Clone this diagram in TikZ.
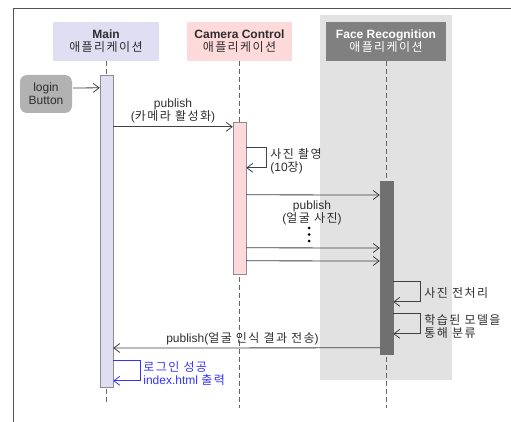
\documentclass[tikz,border=0pt]{standalone}
\usepackage{fontspec}
\setmainfont{Liberation Sans}
\newfontfamily\krfont[LetterSpace=12]{Noto Sans CJK KR}
\usetikzlibrary{arrows.meta, positioning, calc}
\definecolor{cMain}{RGB}{224,222,242}
\definecolor{cCam}{RGB}{255,218,218}
\definecolor{cFace}{RGB}{128,128,128}
\definecolor{cZone}{RGB}{226,226,226}
\definecolor{cBar}{RGB}{112,112,112}
\definecolor{cBtn}{RGB}{178,178,178}
\definecolor{cLine}{RGB}{64,64,64}
\definecolor{cText}{RGB}{45,45,45}
\definecolor{cBlue}{RGB}{51,51,255}
\tikzset{
	head/.style={rectangle, minimum height=39pt, inner sep=0pt, align=center, text=cText},
	actbar/.style={rectangle, minimum width=13pt, inner sep=0pt, draw=cLine!60},
	lifeline/.style={draw=cLine!80, dash pattern=on 5pt off 3pt, line width=0.8pt},
	msg/.style={draw=cLine, line width=0.8pt, -{Straight Barb[length=6pt, width=9pt]}},
	note/.style={align=left, anchor=west, inner sep=0pt, text=cText},
	btnbox/.style={rectangle, rounded corners=7pt, minimum width=52pt, minimum height=38pt, align=center, fill=cBtn, text=cText, inner sep=0pt},
}

\begin{document}
\begin{tikzpicture}[x=1pt, y=-1pt, font=\fontsize{12}{13}\selectfont]
	\useasboundingbox (0,0) rectangle (511,422);
	\draw[cLine!90, line width=0.9pt] (13,422) -- (13,8) -- (511,8);
	% shaded zone of the recognition app
	\fill[cZone] (320,15) rectangle (452,380);
	% headers
	\node[head, fill=cMain, minimum width=106pt] (main) at (106,41.5) {\textbf{Main}\\{\krfont 애플리케이션}};
	\node[head, fill=cCam, minimum width=105pt] (cam) at (239.5,41.5) {\textbf{Camera Control}\\{\krfont 애플리케이션}};
	\node[head, fill=cFace, minimum width=120pt, text=white] (face) at (386,41.5) {\textbf{Face Recognition}\\{\krfont 애플리케이션}};
	\coordinate (mainend) at (main.south |- 0,402);
	\coordinate (camend) at (cam.south |- 0,408);
	\coordinate (faceend) at (face.south |- 0,408);
	\draw[lifeline] (main.south) -- (mainend);
	\draw[lifeline] (cam.south) -- (camend);
	\draw[lifeline] (face.south) -- (faceend);
	% activation bars
	\node[actbar, fill=cMain, minimum height=312pt] (mainbar) at (106.5,231) {};
	\node[actbar, fill=cCam, minimum height=152pt] (cambar) at (239.5,198) {};
	\node[actbar, fill=cBar, draw=cBar, minimum height=173pt] (facebar) at (386.5,267.5) {};
	% login
	\node[btnbox] (login) at (46,94) {login\\Button};
	\draw[msg] ($(login.east)+(1,-6)$) -- ($(mainbar.north west)+(0,13)$);
	% activate camera
	\draw[msg] ($(mainbar.north east)+(0,52)$) -- node[above, align=center, text=cText, inner sep=3pt] {publish\\({\krfont 카메라 활성화})} ($(cambar.north west)+(0,5)$);
	\draw[msg] ($(cambar.north east)+(0,26)$) -- ++(20,0) -- ++(0,20) -- ++(-20,0);
	\node[note] (shot) at ($(cambar.north east)+(24,39)$) {{\krfont 사진 촬영}\\(10{\krfont 장})};
	% send pictures
	\draw[msg] ($(cambar.north east)+(0,73)$) -- (facebar.north west |- 0,195);
	\node[align=center, text=cText] (pub) at (312,212.5) {publish\\({\krfont 얼굴 사진})};
	\foreach \d in {228,234.5,241}
		\fill[black] (309,\d) circle (1.5pt);
	\draw[msg] ($(cambar.north east)+(0,126)$) -- (facebar.north west |- 0,248);
	\draw[msg] ($(cambar.north east)+(0,139)$) -- (facebar.north west |- 0,261);
	% recognition
	\draw[msg] ($(facebar.north east)+(0,101)$) -- ++(27,0) -- ++(0,20) -- ++(-27,0);
	\node[note] (prep) at ($(facebar.north east)+(31,112)$) {\krfont 사진 전처리};
	\draw[msg] ($(facebar.north east)+(0,133)$) -- ++(27,0) -- ++(0,20) -- ++(-27,0);
	\node[note] (cls) at ($(facebar.north east)+(31,146)$) {\krfont 학습된 모델을\\\krfont 통해 분류};
	% result
	\draw[msg] ($(facebar.north west)+(0,167)$) -- node[above, pos=0.515, text=cText, inner sep=3pt] {publish({\krfont 얼굴 인식 결과 전송})} (mainbar.north east |- 0,348);
	\draw[msg, draw=cBlue] ($(mainbar.north east)+(0,286)$) -- ++(27,0) -- ++(0,20) -- ++(-27,0);
	\node[note, text=cBlue] (ok) at ($(mainbar.north east)+(30,299)$) {{\krfont 로그인 성공}\\index.html {\krfont 출력}};
\end{tikzpicture}
\end{document}
